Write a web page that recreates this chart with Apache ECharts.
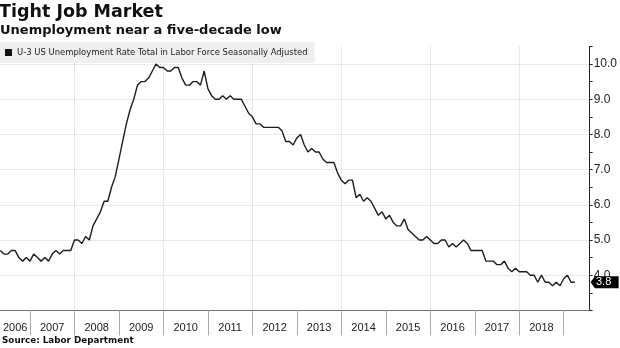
<!DOCTYPE html>
<html>
<head>
<meta charset="utf-8">
<script src="https://cdn.jsdelivr.net/npm/echarts@6/dist/echarts.min.js"></script>
<style>
  html, body { margin: 0; padding: 0; background: #fff; }
  #chart { width: 620px; height: 348px; }
</style>
</head>
<body>
<div id="chart"></div>
<script>
// ---- Data ----
const startYear = 2006, startMonth = 4;      // first observation: Apr 2006
const paddingMonths = 4;                      // empty months to the right of last point
const yearLabels = ['2006','2007','2008','2009','2010','2011','2012','2013','2014','2015','2016','2017','2018'];
const rate2006 = [4.7, 4.6, 4.6, 4.7, 4.7, 4.5, 4.4, 4.5, 4.4];
const rate2007 = [4.6, 4.5, 4.4, 4.5, 4.4, 4.6, 4.7, 4.6, 4.7, 4.7, 4.7, 5.0];
const rate2008 = [5.0, 4.9, 5.1, 5.0, 5.4, 5.6, 5.8, 6.1, 6.1, 6.5, 6.8, 7.3];
const rate2009 = [7.8, 8.3, 8.7, 9.0, 9.4, 9.5, 9.5, 9.6, 9.8, 10.0, 9.9, 9.9];
const rate2010 = [9.8, 9.8, 9.9, 9.9, 9.6, 9.4, 9.4, 9.5, 9.5, 9.4, 9.8, 9.3];
const rate2011 = [9.1, 9.0, 9.0, 9.1, 9.0, 9.1, 9.0, 9.0, 9.0, 8.8, 8.6, 8.5];
const rate2012 = [8.3, 8.3, 8.2, 8.2, 8.2, 8.2, 8.2, 8.1, 7.8, 7.8, 7.7, 7.9];
const rate2013 = [8.0, 7.7, 7.5, 7.6, 7.5, 7.5, 7.3, 7.2, 7.2, 7.2, 6.9, 6.7];
const rate2014 = [6.6, 6.7, 6.7, 6.2, 6.3, 6.1, 6.2, 6.1, 5.9, 5.7, 5.8, 5.6];
const rate2015 = [5.7, 5.5, 5.4, 5.4, 5.6, 5.3, 5.2, 5.1, 5.0, 5.0, 5.1, 5.0];
const rate2016 = [4.9, 4.9, 5.0, 5.0, 4.8, 4.9, 4.8, 4.9, 5.0, 4.9, 4.7, 4.7];
const rate2017 = [4.7, 4.7, 4.4, 4.4, 4.4, 4.3, 4.3, 4.4, 4.2, 4.1, 4.2, 4.1];
const rate2018 = [4.1, 4.1, 4.0, 4.0, 3.8, 4.0, 3.8, 3.8, 3.7, 3.8, 3.7, 3.9];
const rate2019 = [4.0, 3.8, 3.8];
const seriesName = 'U-3 US Unemployment Rate Total in Labor Force Seasonally Adjusted';
const yMin = 3, yMax = 10.5;

// ---- Build ----
const rates = [].concat(rate2006, rate2007, rate2008, rate2009, rate2010, rate2011, rate2012,
  rate2013, rate2014, rate2015, rate2016, rate2017, rate2018, rate2019);
const months = [];
for (let i = 0; i < rates.length + paddingMonths; i++) {
  const m0 = startMonth - 1 + i;
  const y = startYear + Math.floor(m0 / 12);
  const m = (m0 % 12) + 1;
  months.push(y + '-' + String(m).padStart(2, '0'));
}
const decIdx = y => months.indexOf(y + '-12');
const labelPos = {};
yearLabels.forEach(y => {
  const a = Math.max(0, decIdx(+y - 1));
  const b = decIdx(+y);
  labelPos[Math.round((a + b) / 2)] = y;
});
const lastValue = rates[rates.length - 1];

const chart = echarts.init(document.getElementById('chart'), null, { renderer: 'canvas' });
chart.setOption({
  animation: false,
  backgroundColor: '#ffffff',
  title: [
    { text: 'Tight Job Market', left: -1, top: 3, padding: 0,
      textStyle: { fontFamily: 'DejaVu Sans', fontWeight: 'bold', fontSize: 17.5, color: '#111' } },
    { text: 'Unemployment near a five-decade low', left: 0, top: 24, padding: 0,
      textStyle: { fontFamily: 'DejaVu Sans', fontWeight: 'bold', fontSize: 13, color: '#111' } },
    { text: 'Source: Labor Department', left: 2, top: 336, padding: 0,
      textStyle: { fontFamily: 'DejaVu Sans', fontWeight: 'bold', fontSize: 8.8, color: '#111' } }
  ],
  legend: {
    left: 0, top: 42,
    padding: [6, 7, 6, 5],
    backgroundColor: '#efefef',
    icon: 'rect', itemWidth: 7, itemHeight: 7,
    textStyle: { fontFamily: '"DejaVu Sans Condensed", "Liberation Sans"', fontSize: 9.4, color: '#222' },
    data: [seriesName]
  },
  grid: { left: 0, right: 28, top: 46.4, bottom: 37.6 },
  xAxis: {
    type: 'category',
    data: months,
    boundaryGap: false,
    axisLine: { show: true, lineStyle: { color: '#777', width: 1 } },
    axisTick: {
      show: true, length: 25,
      interval: (i, v) => v.endsWith('-12'),
      lineStyle: { color: '#aaa', width: 1 }
    },
    axisLabel: {
      interval: (i) => labelPos[i] !== undefined,
      formatter: (v, i) => labelPos[i] || '',
      margin: 12,
      fontFamily: 'Liberation Sans', fontSize: 11, color: '#222'
    },
    splitLine: {
      show: true,
      interval: (i, v) => v.endsWith('-12') && (+v.slice(0, 4)) % 2 === 1,
      lineStyle: { color: '#d4d4d4', type: 'dotted', width: 1 }
    }
  },
  yAxis: [
    {
      type: 'value', position: 'right',
      min: yMin, max: yMax, interval: 0.5,
      axisLine: { show: true, lineStyle: { color: '#222', width: 1 } },
      axisTick: { show: true, length: 3, lineStyle: { color: '#222' } },
      axisLabel: {
        margin: 4,
        formatter: v => (Number.isInteger(v) && v >= 4) ? v.toFixed(1) : '',
        fontFamily: 'Liberation Sans', fontSize: 12, color: '#222'
      },
      splitLine: { show: false }
    },
    {
      type: 'value', position: 'right',
      min: yMin, max: yMax, interval: 1,
      axisLine: { show: false }, axisTick: { show: false }, axisLabel: { show: false },
      splitLine: { show: true, showMinLine: false, showMaxLine: false,
        lineStyle: { color: '#d4d4d4', type: 'dotted', width: 1 } }
    }
  ],
  series: [{
    name: seriesName,
    type: 'line',
    data: rates,
    yAxisIndex: 0,
    symbol: 'none',
    clip: false,
    itemStyle: { color: '#111' },
    lineStyle: { color: '#1e1e1e', width: 1.4 },
    markPoint: {
      symbol: 'path://M0,6 L5,0 L33,0 L33,12 L5,12 Z',
      symbolSize: [28, 12],
      symbolOffset: [15, 0],
      itemStyle: { color: '#000' },
      label: {
        show: true, position: 'inside', offset: [-1, 0],
        formatter: p => p.value.toFixed(1),
        fontFamily: 'Liberation Sans', fontSize: 11, color: '#fff'
      },
      data: [{ coord: [months[months.length - 1], lastValue], value: lastValue }]
    }
  }]
});
</script>
</body>
</html>
